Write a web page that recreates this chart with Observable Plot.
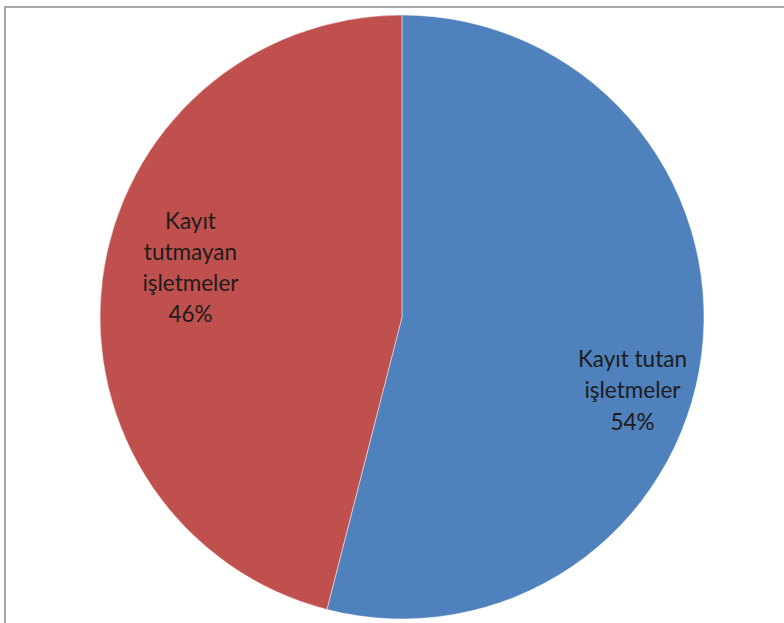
<!DOCTYPE html>
<html>
<head>
<meta charset="utf-8">
<script src="https://cdn.jsdelivr.net/npm/d3@7"></script>
<script src="https://cdn.jsdelivr.net/npm/@observablehq/plot@0.6"></script>
<style>
  html, body { margin: 0; padding: 0; background: #fff; }
  #chart { width: 784px; height: 623px; }
</style>
</head>
<body>
<div id="chart"></div>
<script>
const categories = ["Kayıt tutan işletmeler", "Kayıt tutmayan işletmeler"];
const values = [54, 46];
const labels = ["Kayıt tutan\nişletmeler\n54%", "Kayıt\ntutmayan\nişletmeler\n46%"];
const colors = ["#4F81BD", "#C0504D"];

const W = 784, H = 623, CX = 402, CY = 317, R = 302;

const pie = d3.pie().sort(null).value(d => d.value);
const arcs = pie(categories.map((c, i) => ({category: c, value: values[i], label: labels[i]})));

// label positions: polar from mid-angle (unit radius scale)
const labelRadius = [0.797, 0.723];
const labelAngleShift = [0.174, 0.115];
const labelData = arcs.map((a, i) => {
  const ang = (a.startAngle + a.endAngle) / 2 + labelAngleShift[i];
  const r = labelRadius[i];
  return {x: Math.sin(ang) * r, y: Math.cos(ang) * r, label: a.data.label};
});

function pieMark(index, scales, values_, dims, context) {
  const g = d3.create("svg:g");
  const cx = scales.x(0), cy = scales.y(0);
  const r = scales.x(1) - scales.x(0);
  const arcGen = d3.arc().innerRadius(0).outerRadius(r);
  g.selectAll("path").data(arcs).join("path")
    .attr("transform", `translate(${cx},${cy})`)
    .attr("d", arcGen)
    .attr("fill", (d, i) => colors[i])
    .attr("stroke", "rgba(255,255,255,0.45)")
    .attr("stroke-width", 1);
  return g.node();
}

function frameMark(index, scales, values_, dims) {
  const g = d3.create("svg:g");
  g.append("path")
    .attr("d", `M5,${dims.height + 5} L5,7 L${dims.width + 5},7`)
    .attr("fill", "none")
    .attr("stroke", "#a6a6a6")
    .attr("stroke-width", 2);
  return g.node();
}

const chart = Plot.plot({
  width: W,
  height: H,
  margin: 0,
  style: {background: "#fff", overflow: "visible"},
  x: {domain: [-CX / R, (W - CX) / R], axis: null},
  y: {domain: [-(H - CY) / R, CY / R], axis: null},
  marks: [
    frameMark,
    pieMark,
    Plot.text(labelData, {
      x: "x", y: "y", text: "label",
      fontSize: 22.5,
      lineHeight: 1.38,
      fill: "#1c1c1c",
      fontFamily: "Lato, 'Open Sans', sans-serif",
      textAnchor: "middle"
    })
  ]
});
document.getElementById("chart").appendChild(chart);
</script>
</body>
</html>
